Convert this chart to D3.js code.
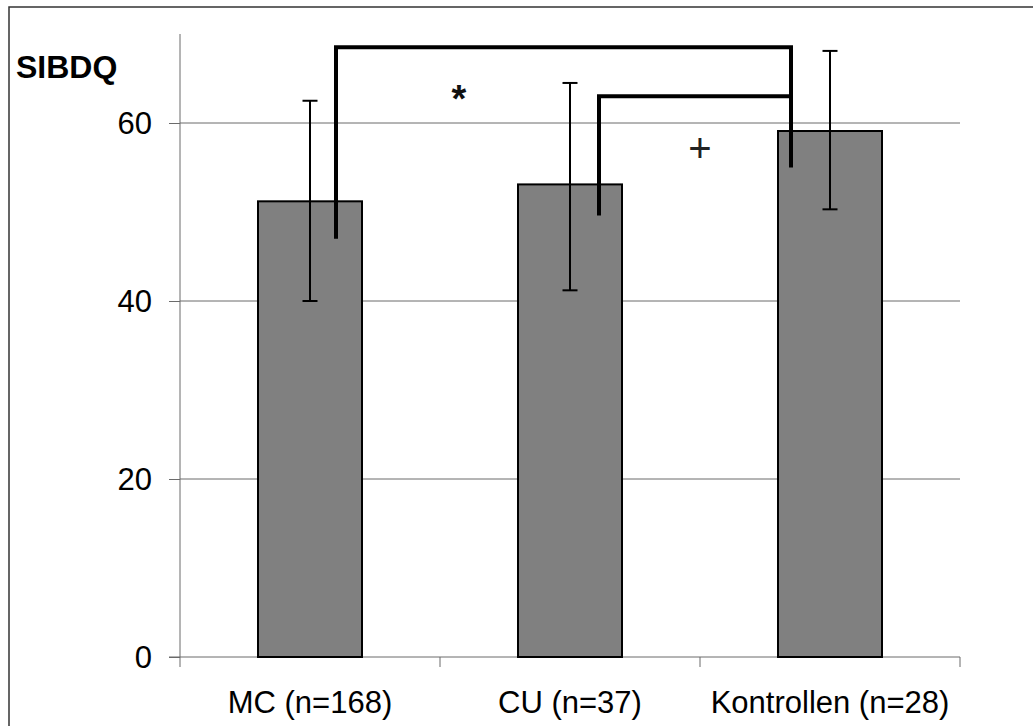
<!DOCTYPE html>
<html>
<head>
<meta charset="utf-8">
<script src="https://cdn.jsdelivr.net/npm/d3@7"></script>
<style>
  html, body { margin: 0; padding: 0; background: #fff; }
  svg { display: block; }
  text { font-family: "Liberation Sans", Arial, sans-serif; }
</style>
</head>
<body>
<script>
// ---- data ----
const categories = ["MC (n=168)", "CU (n=37)", "Kontrollen (n=28)"];
const means = [51.2, 53.1, 59.1];
const errLow = [40.0, 41.2, 50.3];
const errHigh = [62.5, 64.5, 68.1];
const yTicks = [0, 20, 40, 60];
const yLabel = "SIBDQ";
// significance brackets: group indices, bracket level, end levels
const bracketFrom = [0, 1];
const bracketTo = [2, 2];
const bracketLevel = [68.5, 63.0];
const bracketFromEnd = [47.0, 49.6];
const bracketToEnd = [55.0, 63.0];
const sigLabels = ["*", "+"];
const sigLabelValue = [63.2, 57.1];

// ---- layout ----
const W = 1033, H = 726;
const svg = d3.select("body").append("svg").attr("width", W).attr("height", H);

// outer frame
svg.append("rect").attr("x", 9).attr("y", 7).attr("width", 1100).attr("height", 800)
  .attr("fill", "none").attr("stroke", "#333").attr("stroke-width", 1.5);

const x = d3.scaleBand().domain(categories).range([180, 960]).padding(0);
const y = d3.scaleLinear().domain([0, 70]).range([657, 34]);
const barW = x.bandwidth() * 0.4;
const cx = c => x(c) + x.bandwidth() / 2;

// gridlines
svg.append("g").selectAll("line").data(yTicks.filter(t => t > 0)).join("line")
  .attr("x1", 180).attr("x2", 960)
  .attr("y1", d => y(d)).attr("y2", d => y(d))
  .attr("stroke", "#6b6b6b").attr("stroke-width", 1);

// y axis
const yAxis = svg.append("g").attr("transform", "translate(180,0)")
  .call(d3.axisLeft(y).tickValues(yTicks).tickSize(11).tickFormat(d3.format("d")));
yAxis.select(".domain").attr("stroke", "#6b6b6b").attr("d", `M0,${y(70)}V${y(0)}`);
yAxis.selectAll(".tick line").attr("stroke", "#6b6b6b");
yAxis.selectAll(".tick text").attr("font-size", 31).attr("fill", "#000")
  .attr("x", -28).attr("dy", "0.35em")
  .attr("font-family", "'Liberation Sans', Arial, sans-serif");

// x axis: ticks at category boundaries
const boundaries = categories.map(c => x(c)).concat([x.range()[1]]);
const xAxisG = svg.append("g");
xAxisG.append("line").attr("x1", 169).attr("x2", 960).attr("y1", y(0)).attr("y2", y(0))
  .attr("stroke", "#6b6b6b").attr("stroke-width", 1);
xAxisG.selectAll("line.tk").data(boundaries).join("line").attr("class", "tk")
  .attr("x1", d => d).attr("x2", d => d).attr("y1", y(0)).attr("y2", y(0) + 10)
  .attr("stroke", "#6b6b6b").attr("stroke-width", 1);
xAxisG.selectAll("text").data(categories).join("text")
  .attr("x", d => cx(d)).attr("y", 713).attr("text-anchor", "middle")
  .attr("font-size", 31).attr("fill", "#000").text(d => d);

// bars
svg.append("g").selectAll("rect").data(categories).join("rect")
  .attr("x", d => cx(d) - barW / 2).attr("width", barW)
  .attr("y", (d, i) => y(means[i])).attr("height", (d, i) => y(0) - y(means[i]))
  .attr("fill", "#808080").attr("stroke", "#000").attr("stroke-width", 2);

// error bars
const eb = svg.append("g").attr("stroke", "#000").attr("stroke-width", 2);
categories.forEach((c, i) => {
  const xc = cx(c);
  eb.append("line").attr("x1", xc).attr("x2", xc).attr("y1", y(errLow[i])).attr("y2", y(errHigh[i]));
  eb.append("line").attr("x1", xc - 7.5).attr("x2", xc + 7.5).attr("y1", y(errLow[i])).attr("y2", y(errLow[i]));
  eb.append("line").attr("x1", xc - 7.5).attr("x2", xc + 7.5).attr("y1", y(errHigh[i])).attr("y2", y(errHigh[i]));
});

// significance brackets
const fromOffset = [26, 29];
const toOffset = -39;
const br = svg.append("g").attr("fill", "none").attr("stroke", "#000").attr("stroke-width", 4)
  .attr("stroke-linejoin", "miter");
bracketFrom.forEach((f, i) => {
  const x1 = cx(categories[f]) + fromOffset[i];
  const x2 = cx(categories[bracketTo[i]]) + toOffset;
  const p = d3.path();
  p.moveTo(x1, y(bracketFromEnd[i]));
  p.lineTo(x1, y(bracketLevel[i]));
  p.lineTo(x2, y(bracketLevel[i]));
  p.lineTo(x2, y(bracketToEnd[i]));
  br.append("path").attr("d", p.toString());
});

// significance labels
const labelX = [x(categories[1]) + 19, x(categories[2])];
svg.append("text").attr("x", labelX[0]).attr("y", y(sigLabelValue[0]) + 17)
  .attr("text-anchor", "middle").attr("font-size", 38).attr("font-weight", "bold")
  .attr("fill", "#111").text(sigLabels[0]);
svg.append("text").attr("x", labelX[1]).attr("y", y(sigLabelValue[1]) + 13)
  .attr("text-anchor", "middle").attr("font-size", 40).attr("font-weight", 200)
  .attr("font-family", "'DejaVu Sans ExtraLight', 'DejaVu Sans', sans-serif")
  .attr("fill", "#222").text(sigLabels[1]);

// y label
svg.append("text").attr("x", 16).attr("y", 78).attr("font-size", 32)
  .attr("font-weight", "bold").attr("fill", "#000").text(yLabel);
</script>
</body>
</html>
